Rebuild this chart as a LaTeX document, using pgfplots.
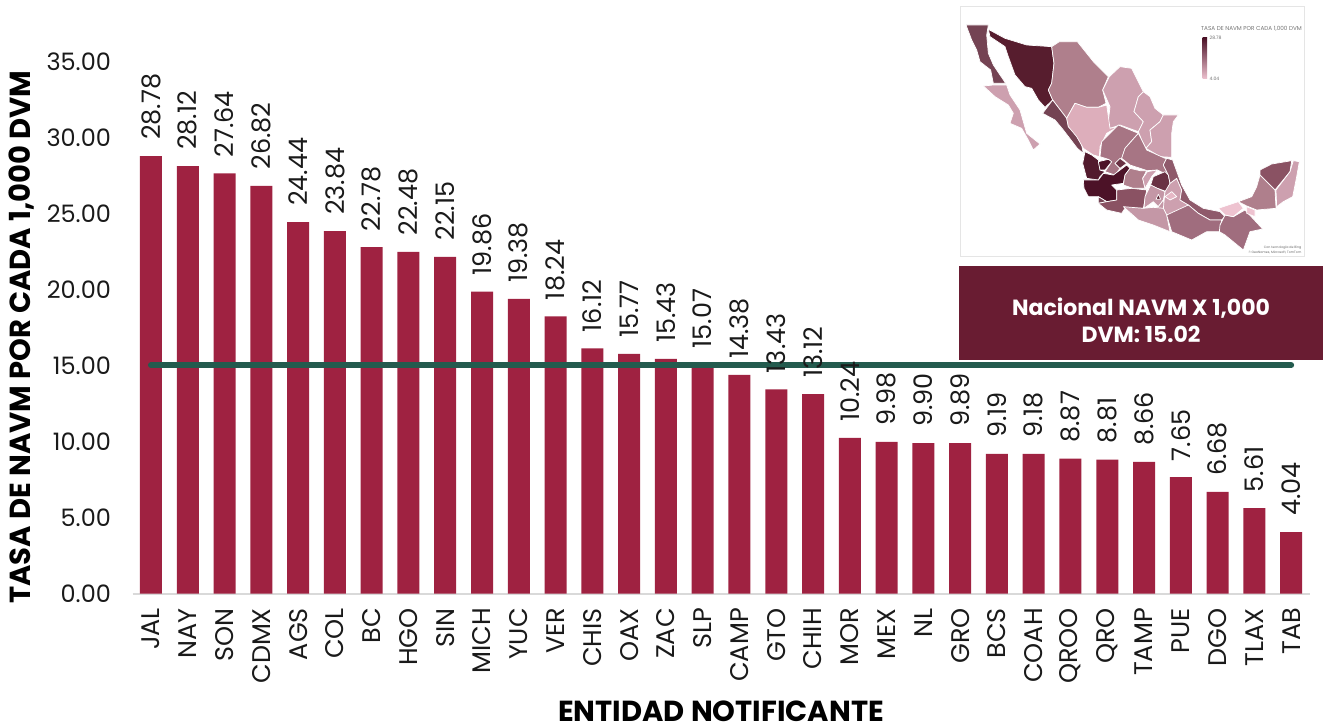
\documentclass[border=0pt]{standalone}
\usepackage{pgfplots}
\pgfplotsset{compat=1.18}
\usepackage{fontspec}
\setmainfont{Poppins}
\definecolor{guinda}{HTML}{9F2241}
\definecolor{vino}{HTML}{691C32}
\definecolor{verde}{HTML}{235B4E}
\definecolor{textgray}{HTML}{1A1A1A}
% map shades, dark = high rate
\definecolor{m29}{HTML}{4C1227}
\definecolor{m28}{HTML}{521A2D}
\definecolor{m27}{HTML}{571D2E}
\definecolor{m24}{HTML}{6A3244}
\definecolor{m23}{HTML}{744353}
\definecolor{m20}{HTML}{8A5263}
\definecolor{m18}{HTML}{8F5A6B}
\definecolor{m16}{HTML}{A06D7E}
\definecolor{m15}{HTML}{A77584}
\definecolor{m14}{HTML}{AF7F8C}
\definecolor{m10}{HTML}{C497A6}
\definecolor{m9}{HTML}{CDA0AF}
\definecolor{m7}{HTML}{DDAEBB}
\definecolor{m5}{HTML}{E6B8C6}
\definecolor{m4}{HTML}{EEC3D0}
\pgfplotstableread{
id val
0 28.78
1 28.12
2 27.64
3 26.82
4 24.44
5 23.84
6 22.78
7 22.48
8 22.15
9 19.86
10 19.38
11 18.24
12 16.12
13 15.77
14 15.43
15 15.07
16 14.38
17 13.43
18 13.12
19 10.24
20 9.98
21 9.90
22 9.89
23 9.19
24 9.18
25 8.87
26 8.81
27 8.66
28 7.65
29 6.68
30 5.61
31 4.04
}\tasa
\begin{document}
\begin{tikzpicture}[x=1pt,y=1pt]
\path[use as bounding box] (0,0) rectangle (1328,726);
\begin{axis}[
    at={(132.6pt,132.5pt)},
    anchor=south west,
    scale only axis,
    width=1177pt,
    height=532pt,
    xmin=-0.5, xmax=31.5,
    ymin=0, ymax=35,
    clip=false,
    axis lines=left,
    axis line style={-},
    y axis line style={draw=none},
    x axis line style={draw=black!15, line width=2pt},
    tick style={draw=none},
    ytick={0,5,...,35},
    xtick=data,
    xticklabels={JAL,NAY,SON,CDMX,AGS,COL,BC,HGO,SIN,MICH,YUC,VER,CHIS,OAX,ZAC,SLP,CAMP,GTO,CHIH,MOR,MEX,NL,GRO,BCS,COAH,QROO,QRO,TAMP,PUE,DGO,TLAX,TAB},
    /pgf/number format/fixed,
    /pgf/number format/fixed zerofill,
    /pgf/number format/precision=2,
    /pgf/number format/assume math mode=true,
    yticklabel style={font=\fontsize{24}{28}\selectfont, text=textgray, xshift=-16pt},
    xticklabel style={font=\fontsize{25.5}{28}\selectfont, text=textgray, rotate=90, anchor=east, xshift=-9pt, yshift=0pt},
    xlabel={ENTIDAD NOTIFICANTE},
    ylabel={TASA DE NAVM POR CADA 1,000 DVM},
    xlabel style={font=\fontsize{29}{32}\selectfont\bfseries, at={(axis description cs:0.5,-0.2214)}, anchor=center, inner sep=0pt},
    ylabel style={font=\fontsize{29}{32}\selectfont\bfseries, at={(axis description cs:-0.094,0.482)}, anchor=center, inner sep=0pt},
]
\addplot[ybar, bar width=22pt, fill=guinda, draw=none] table[x=id,y=val] {\tasa};
\addplot[verde, line width=6pt, line cap=round, mark=none] coordinates {(0,15.02) (31,15.02)};
% value labels go over the line, so they come last
\addplot[
    ybar,
    bar width=22pt,
    fill=none,
    draw=none,
    nodes near coords,
    every node near coord/.append style={
        rotate=90, anchor=west, inner sep=0pt, xshift=16pt,
        font=\fontsize{25.5}{28}\selectfont, text=textgray},
] table[x=id,y=val] {\tasa};
\end{axis}

% map frame and national box
\draw[black!10, line width=1pt] (960,719) rectangle (1304.5,469.5);
\fill[vino] (959,460) rectangle (1323,366);
\node[text=white, font=\fontsize{22}{27}\selectfont\bfseries, align=center] at (1141,406) {Nacional NAVM X 1,000\\DVM: 15.02};

\begin{axis}[
    at={(950pt,346pt)},
    anchor=south west,
    scale only axis,
    width=378pt,
    height=380pt,
    xmin=0, xmax=1134,
    ymin=0, ymax=1140,
    y dir=reverse,
    axis lines=none,
    clip=false,
    every axis plot/.append style={draw=white, line width=0.7pt, mark=none, line join=round},
]
% BC
\addplot[fill=m23] coordinates {(48,75)(115,75)(110,105)(115,160)(130,195)(167,250)(130,250)(122,210)(90,185)(80,150)(65,120)} --cycle;
% BCS
\addplot[fill=m9] coordinates {(100,258)(130,255)(170,255)(180,285)(210,330)(230,400)(270,432)(250,450)(235,420)(215,385)(180,370)(190,340)(175,315)(135,290)} --cycle;
% SON
\addplot[fill=m27] coordinates {(115,88)(165,115)(230,135)(305,140)(312,190)(305,250)(295,270)(308,300)(285,322)(265,300)(245,265)(225,260)(195,225)(175,170)(165,140)(120,110)} --cycle;
% CHIH
\addplot[fill=m14] coordinates {(305,140)(328,125)(382,125)(430,185)(475,230)(458,270)(468,310)(445,322)(410,322)(375,310)(350,355)(308,300)(295,270)(305,250)(312,190)} --cycle;
% COAH
\addplot[fill=m9] coordinates {(478,230)(510,200)(545,205)(580,275)(565,290)(552,335)(580,365)(565,395)(510,375)(480,385)(475,365)(480,320)(458,270)} --cycle;
% NL
\addplot[fill=m9] coordinates {(580,275)(600,290)(615,325)(640,345)(630,365)(600,390)(605,425)(588,445)(575,420)(565,395)(580,365)(552,335)(565,290)} --cycle;
% TAMP
\addplot[fill=m9] coordinates {(640,345)(685,345)(670,365)(665,400)(665,472)(630,470)(588,445)(605,425)(600,390)(630,365)} --cycle;
% SIN
\addplot[fill=m23] coordinates {(308,300)(350,355)(355,380)(390,410)(400,460)(382,445)(340,390)(315,360)(278,340)} --cycle;
% DGO
\addplot[fill=m7] coordinates {(375,310)(410,322)(445,322)(470,315)(480,385)(505,380)(470,400)(450,440)(448,470)(430,465)(400,445)(380,410)(355,380)(350,355)} --cycle;
% ZAC
\addplot[fill=m15] coordinates {(505,375)(565,400)(525,445)(515,475)(495,490)(510,505)(495,525)(465,515)(485,485)(475,478)(450,470)(455,425)(480,400)} --cycle;
% SLP
\addplot[fill=m15] coordinates {(565,400)(590,450)(645,475)(650,475)(640,495)(655,525)(622,510)(592,512)(540,495)(515,475)(525,445)} --cycle;
% NAY
\addplot[fill=m28] coordinates {(405,455)(425,465)(445,480)(450,510)(465,515)(450,530)(445,540)(410,535)(398,490)} --cycle;
% JAL
\addplot[fill=m29] coordinates {(400,540)(445,540)(460,520)(490,525)(530,495)(540,505)(525,525)(520,550)(485,555)(500,570)(500,600)(470,605)(445,590)(415,590)(402,565)} --cycle;
\addplot[fill=m29] coordinates {(445,485)(475,478)(485,485)(465,510)(450,510)} --cycle;
% AGS
\addplot[fill=m24] coordinates {(495,490)(510,475)(530,490)(510,505)} --cycle;
% COL
\addplot[fill=m23] coordinates {(445,590)(470,605)(445,610)} --cycle;
% MICH
\addplot[fill=m20] coordinates {(500,570)(545,565)(590,570)(580,625)(525,625)(515,640)(470,630)(445,610)(470,605)(500,600)} --cycle;
% GTO
\addplot[fill=m14] coordinates {(525,525)(540,505)(570,512)(590,512)(578,535)(585,565)(550,565)(520,555)} --cycle;
% QRO
\addplot[fill=m9] coordinates {(592,515)(622,510)(605,530)(585,565)(578,535)} --cycle;
% HGO
\addplot[fill=m24] coordinates {(602,555)(610,530)(645,515)(655,525)(660,550)(650,575)(622,565)} --cycle;
% MEX
\addplot[fill=m10] coordinates {(602,555)(622,565)(645,575)(640,600)(625,620)(610,605)(582,625)(585,590)} --cycle;
% CDMX
\addplot[fill=m27] coordinates {(625,583)(632,598)(618,598)} --cycle;
% MOR
\addplot[fill=m10] coordinates {(625,620)(640,600)(645,622)(632,645)(615,625)} --cycle;
% PUE
\addplot[fill=m9] coordinates {(660,550)(680,535)(695,570)(690,600)(715,615)(685,635)(650,645)(640,625)(645,575)} --cycle;
% TLAX
\addplot[fill=m5] coordinates {(645,590)(665,575)(680,590)(660,600)} --cycle;
% GRO
\addplot[fill=m10] coordinates {(520,620)(580,625)(610,622)(640,625)(650,645)(660,695)(610,675)(565,660)} --cycle;
% VER
\addplot[fill=m18] coordinates {(650,475)(668,480)(695,555)(720,600)(760,625)(810,635)(825,650)(815,660)(780,660)(745,640)(715,615)(690,600)(695,570)(680,535)(660,550)(655,525)(640,495)} --cycle;
% OAX
\addplot[fill=m16] coordinates {(650,645)(715,615)(745,640)(780,660)(815,660)(810,695)(770,695)(725,720)(665,695)} --cycle;
% CHIS
\addplot[fill=m16] coordinates {(825,645)(850,650)(885,630)(938,687)(900,695)(880,750)(825,705)(808,695)(810,675)} --cycle;
% TAB
\addplot[fill=m4] coordinates {(805,625)(865,605)(880,625)(850,650)(825,645)} --cycle;
\addplot[fill=m4] coordinates {(890,620)(915,630)(915,650)(890,640)} --cycle;
% CAMP
\addplot[fill=m14] coordinates {(930,525)(975,570)(978,625)(920,630)(890,618)(865,605)(905,590)(920,560)} --cycle;
% YUC
\addplot[fill=m20] coordinates {(930,510)(965,492)(1025,482)(1020,515)(975,570)(930,525)} --cycle;
% QROO
\addplot[fill=m9] coordinates {(1030,482)(1048,485)(1040,530)(1028,590)(1000,605)(980,620)(978,570)(1020,515)} --cycle;
\end{axis}

% map legend and credits
\node[text=black!55, font=\fontsize{5.7}{6}\selectfont, anchor=east, inner sep=0pt] at (1302,697) {TASA DE NAVM POR CADA 1,000 DVM};
\shade[top color=m29, bottom color=m4] (1202.5,688) rectangle (1207,647);
\node[text=black!55, font=\fontsize{4.6}{5}\selectfont, anchor=west, inner sep=0pt] at (1209.5,688) {28.78};
\node[text=black!55, font=\fontsize{4.6}{5}\selectfont, anchor=west, inner sep=0pt] at (1209.5,647) {4.04};
\node[text=black!60, font=\fontsize{3.2}{4.6}\selectfont, anchor=east, align=right, inner sep=0pt] at (1301.5,476) {Con tecnología de Bing\\© GeoNames, Microsoft, TomTom};
\end{tikzpicture}
\end{document}
